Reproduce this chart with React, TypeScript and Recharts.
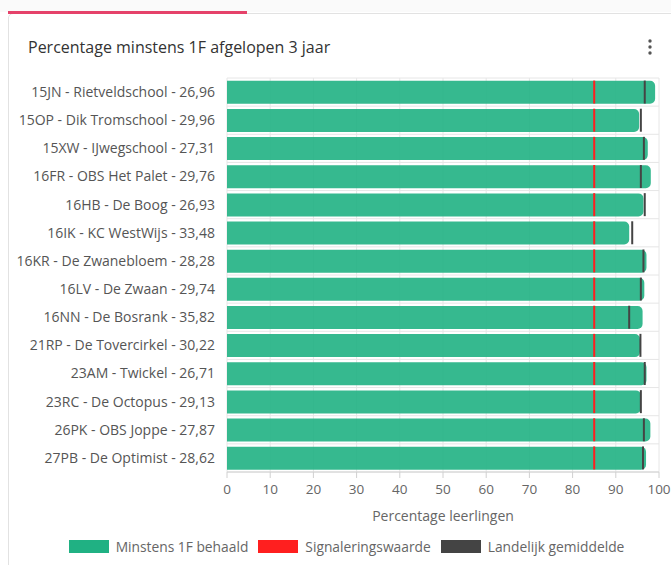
import React from 'react';
import {
  ComposedChart,
  Bar,
  Scatter,
  XAxis,
  YAxis,
  CartesianGrid,
  Legend,
} from 'recharts';

const schools = [
  '15JN - Rietveldschool - 26,96',
  '15OP - Dik Tromschool - 29,96',
  '15XW - IJwegschool - 27,31',
  '16FR - OBS Het Palet - 29,76',
  '16HB - De Boog - 26,93',
  '16IK - KC WestWijs - 33,48',
  '16KR - De Zwanebloem - 28,28',
  '16LV - De Zwaan - 29,74',
  '16NN - De Bosrank - 35,82',
  '21RP - De Tovercirkel - 30,22',
  '23AM - Twickel - 26,71',
  '23RC - De Octopus - 29,13',
  '26PK - OBS  Joppe - 27,87',
  '27PB - De Optimist - 28,62',
];

const behaald = [99.1, 95.4, 97.4, 98.1, 96.4, 93.1, 97.1, 96.6, 96.2, 95.6, 97.1, 95.8, 98.0, 97.0];
const signalering = [85, 85, 85, 85, 85, 85, 85, 85, 85, 85, 85, 85, 85, 85];
const landelijk = [96.7, 95.8, 96.5, 95.8, 96.7, 93.8, 96.4, 95.8, 93.1, 95.7, 96.7, 95.8, 96.5, 96.3];

const xTicks = [0, 10, 20, 30, 40, 50, 60, 70, 80, 90, 100];

const seriesNames = ['Minstens 1F behaald', 'Signaleringswaarde', 'Landelijk gemiddelde'];
const seriesColors = ['#20b183', '#ff1f1f', '#444444'];

const data = schools.map((name, i) => ({
  name,
  behaald: behaald[i],
  signalering: signalering[i],
  landelijk: landelijk[i],
}));

const FONT = '"Open Sans", sans-serif';

const makeMarker = (color: string) => (props: any) => {
  const { cx, cy } = props;
  if (cx == null || cy == null) return <g />;
  return <line x1={cx} x2={cx} y1={cy - 11.5} y2={cy + 11.5} stroke={color} strokeWidth={2} />;
};

const LegendContent = (props: any) => {
  const payload = [...(props.payload || [])].sort(
    (a: any, b: any) => seriesNames.indexOf(a.value) - seriesNames.indexOf(b.value)
  );
  return (
    <div
      style={{
        display: 'flex',
        justifyContent: 'center',
        alignItems: 'center',
        height: 30,
        paddingLeft: 44,
        fontFamily: FONT,
        fontSize: 13.8,
        color: '#666',
      }}
    >
      {payload.map((entry: any, i: number) => (
        <div key={i} style={{ display: 'flex', alignItems: 'center', marginRight: 10 }}>
          <div style={{ width: 40, height: 13, background: entry.color, marginRight: 7 }} />
          <span>{entry.value}</span>
        </div>
      ))}
    </div>
  );
};

export default function App() {
  const n = schools.length;
  return (
    <div style={{ position: 'absolute', left: 0, top: 0, width: 671, height: 565, overflow: 'hidden', background: '#fff' }}>
      <div style={{ position: 'absolute', left: 0, top: 0, width: 671, height: 12, background: '#fafafa' }} />
      <div
        style={{
          position: 'absolute',
          left: 8,
          top: 13,
          width: 720,
          height: 620,
          border: '1px solid #e2e2e2',
          borderRadius: 5,
          background: '#fff',
          boxSizing: 'border-box',
        }}
      />
      <div style={{ position: 'absolute', left: 8, top: 11, width: 239, height: 3, background: '#e5426a' }} />
      <div
        style={{
          position: 'absolute',
          left: 28,
          top: 36,
          fontFamily: FONT,
          fontSize: 16,
          color: '#333',
          whiteSpace: 'nowrap',
        }}
      >
        Percentage minstens 1F afgelopen 3 jaar
      </div>
      <svg style={{ position: 'absolute', left: 645, top: 38 }} width={10} height={20}>
        <circle cx={5} cy={3} r={1.7} fill="#555" />
        <circle cx={5} cy={9} r={1.7} fill="#555" />
        <circle cx={5} cy={15} r={1.7} fill="#555" />
      </svg>
      <div style={{ position: 'absolute', left: 0, top: 0 }}>
        <ComposedChart
          width={671}
          height={565}
          data={data}
          layout="vertical"
          margin={{ top: 78, right: 12, bottom: 4, left: 0 }}
          barCategoryGap="10%"
        >
          <CartesianGrid
            stroke="#e6e6e6"
            horizontalCoordinatesGenerator={(args: any) => {
              const off = args && args.offset ? args.offset : { top: 78, height: 394 };
              return Array.from({ length: n + 1 }, (_, i) => off.top + (i * off.height) / n);
            }}
          />
          <XAxis
            type="number"
            domain={[0, 100]}
            ticks={xTicks}
            height={59}
            axisLine={{ stroke: '#d0d0d0' }}
            tickLine={{ stroke: '#d0d0d0' }}
            tickSize={6}
            tickMargin={6}
            tick={{ fill: '#666', fontSize: 13.5, fontFamily: FONT }}
            label={{
              value: 'Percentage leerlingen',
              position: 'insideBottom',
              offset: 10,
              fill: '#666',
              fontSize: 14,
              fontFamily: FONT,
            }}
          />
          <YAxis
            type="category"
            dataKey="name"
            width={227}
            axisLine={false}
            tickLine={false}
            tickSize={0}
            tickMargin={12}
            interval={0}
            tick={{ fill: '#555', fontSize: 14, fontFamily: FONT }}
          />
          <Bar
            dataKey="behaald"
            name={seriesNames[0]}
            fill={seriesColors[0]}
            fillOpacity={0.9}
            radius={[0, 5, 5, 0]}
            legendType="rect"
            isAnimationActive={false}
          />
          <Scatter
            dataKey="signalering"
            name={seriesNames[1]}
            fill={seriesColors[1]}
            shape={makeMarker(seriesColors[1])}
            legendType="rect"
            isAnimationActive={false}
          />
          <Scatter
            dataKey="landelijk"
            name={seriesNames[2]}
            fill={seriesColors[2]}
            shape={makeMarker(seriesColors[2])}
            legendType="rect"
            isAnimationActive={false}
          />
          <Legend verticalAlign="bottom" height={30} content={<LegendContent />} />
        </ComposedChart>
      </div>
    </div>
  );
}
